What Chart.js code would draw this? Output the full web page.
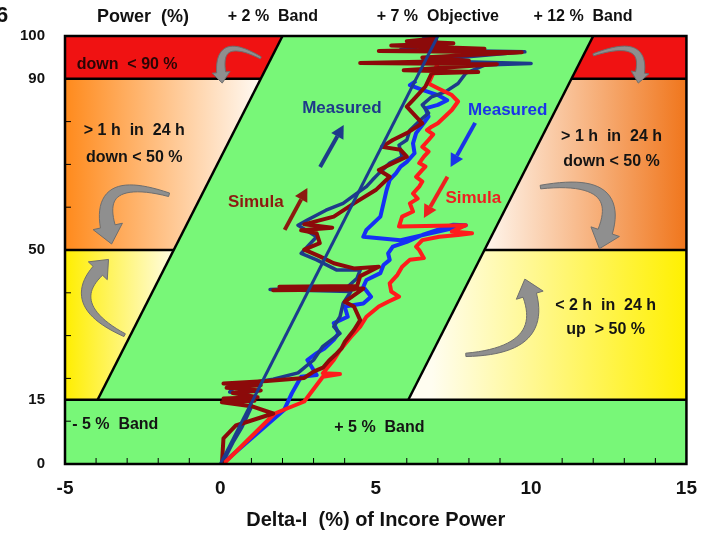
<!DOCTYPE html>
<html>
<head>
<meta charset="utf-8">
<script src="https://cdn.jsdelivr.net/npm/chart.js"></script>
<style>
  html, body { margin: 0; padding: 0; background: #fff; }
  #wrap { width: 710px; height: 533px; position: relative; }
</style>
</head>
<body>
<div id="wrap"><canvas id="deltaChart"></canvas></div>
<script>
var FONT = "'Liberation Sans', Arial, Helvetica, sans-serif";

// axis values
var xTicks = [-5, 0, 5, 10, 15];
var yTicks = [0, 15, 50, 90, 100];
var minorX = [-4, -3, -2, -1, 1, 2, 3, 4, 6, 7, 8, 9, 11, 12, 13, 14];
var minorY = [10, 20, 30, 40, 60, 70, 80];

// operating band: delta-I of each edge at 0 % and at 100 % power
var powerLevels = [15, 50, 90];
var bandLow = [-5, 2];
var bandHigh = [5, 12];
var objective = [[0, 0], [7, 100]];

// traces as [delta-I, power]
var simUp = [
  [0.05, 0], [0.1, 6], [0.5, 9], [1.7, 11.8], [1.0, 13.5], [0.05, 14.4], [1.1, 14.8], [0.1, 15.3],
  [1.2, 15.6], [0.4, 16.6], [1.3, 17.2], [0.2, 17.8], [1.3, 18.4], [0.1, 18.8], [1.5, 19.4],
  [2.7, 20.1], [3.0, 21.6], [3.3, 22.5], [3.5, 24.2], [3.7, 25.5], [3.9, 27.0], [4.0, 28.5],
  [4.3, 31.3], [4.5, 33.6], [4.3, 36.8], [4.0, 37.9], [4.6, 41.0], [1.7, 40.6], [4.3, 40.8],
  [1.9, 41.4], [4.4, 41.6], [4.5, 43.9], [5.1, 46.1], [4.3, 45.7], [3.65, 46.9], [3.2, 48.5],
  [2.7, 50.1], [3.2, 51.6], [3.1, 53.9], [2.6, 54.6], [3.6, 55.2], [2.7, 56.0], [3.65, 57.8],
  [4.3, 60.9], [5.0, 64.0], [5.45, 67.1], [5.1, 68.7], [5.55, 70.3], [6.0, 71.8], [5.8, 73.4],
  [5.2, 74.1], [5.55, 75.7], [6.0, 77.3], [6.5, 79.6], [6.2, 81.9], [6.0, 83.5], [6.2, 85.0],
  [6.4, 86.6], [6.6, 88.2], [6.8, 91.3], [8.3, 91.6], [5.9, 92.0], [8.9, 93.4], [4.5, 93.7],
  [8.0, 94.2], [6.5, 95.0], [9.7, 96.2], [5.1, 96.5], [8.5, 97.0], [5.5, 97.8], [7.5, 98.3],
  [6.0, 98.8], [7.0, 99.5]
];

var measUp = [
  [0.05, 0], [0.4, 5], [0.7, 8.7], [1.0, 13.4], [0.9, 16.1], [0.3, 16.8], [0.5, 18.2], [1.0, 19.0],
  [1.7, 19.8], [2.5, 21.3], [3.0, 24.3], [3.3, 27.5], [3.85, 30.5], [3.65, 32.1], [3.85, 34.4],
  [3.95, 37.5], [4.2, 40.3], [1.6, 40.8], [4.1, 41.4], [4.4, 43.4], [4.5, 45.3], [3.75, 45.3],
  [3.1, 47.7], [2.6, 49.2], [2.8, 50.8], [3.1, 53.1], [2.5, 55.8], [2.8, 57.0], [3.4, 59.3],
  [3.95, 60.9], [4.4, 63.3], [4.7, 64.8], [4.9, 66.4], [5.1, 67.9], [5.45, 70.3], [5.85, 71.8],
  [5.75, 74.5], [6.0, 75.7], [6.1, 78.0], [6.4, 80.1], [6.7, 82.0], [6.5, 83.9], [6.8, 85.8],
  [7.25, 87.0], [7.65, 88.9], [7.9, 91.3], [8.5, 93.2], [10.0, 93.6], [6.5, 94.2], [9.8, 96.3],
  [5.8, 96.8], [7.0, 98.5], [6.5, 100]
];

var measDown = [
  [6.3, 89.5], [6.1, 88.5], [6.5, 87.4], [7.0, 86.2], [7.3, 85.0], [7.0, 83.9], [6.6, 83.1],
  [6.7, 81.2], [6.5, 79.2], [6.3, 77.3], [6.2, 74.9], [6.25, 72.6], [6.0, 70.6], [5.8, 69.5],
  [5.65, 67.9], [5.45, 66.4], [5.35, 64.0], [5.25, 60.9], [5.15, 57.8], [4.7, 54.7], [4.6, 53.1],
  [5.8, 52.3], [7.9, 55.8], [7.5, 55.9], [6.5, 53.5], [6.0, 51.9], [5.55, 50.8], [5.4, 49.2],
  [5.45, 47.7], [5.25, 46.5], [5.15, 44.6], [4.7, 43.0], [4.6, 41.4], [4.85, 39.1], [4.6, 37.5],
  [4.0, 36.8], [4.1, 34.4], [3.65, 32.9], [3.8, 30.5], [3.65, 29.0], [3.35, 27.0], [3.1, 25.9],
  [2.8, 24.3], [3.1, 20.8], [2.6, 20.4], [2.3, 16.5], [2.05, 12.6], [0.1, 0.3]
];

var simDown = [
  [6.8, 95.0], [7.0, 93.6], [6.9, 92.1], [6.8, 90.5], [6.7, 88.9], [7.0, 87.8], [7.45, 86.2],
  [7.65, 84.7], [7.45, 82.7], [7.0, 79.6], [6.8, 78.8], [6.65, 78.0], [6.85, 77.0], [6.7, 75.7],
  [6.5, 74.1], [6.7, 73.0], [6.55, 71.8], [6.4, 70.3], [6.6, 69.5], [6.5, 68.7], [6.3, 67.1],
  [6.5, 66.0], [6.4, 64.8], [6.2, 63.2], [6.35, 62.0], [6.1, 60.9], [6.2, 59.0], [5.85, 57.8],
  [5.75, 55.5], [7.9, 55.8], [7.45, 54.3], [8.1, 53.9], [7.65, 53.5], [7.05, 53.1], [6.5, 52.3],
  [6.3, 50.8], [6.4, 50.0], [6.55, 48.1], [6.1, 47.7], [5.85, 46.1], [5.7, 44.2], [5.45, 42.2],
  [5.5, 40.3], [5.75, 39.1], [5.4, 37.9], [5.1, 36.8], [4.7, 34.4], [4.5, 32.1], [4.2, 29.7],
  [3.85, 26.6], [3.65, 24.3], [3.3, 21.2], [3.85, 21.0], [3.3, 20.4], [2.7, 14.6], [1.75, 11.8],
  [0.1, 0]
];

// text and arrows inside the plot, in axis values
var zoneNotes = [
  { text: "down  < 90 %", x: -3.0, y: 93.4, color: "#2a0505" },
  { text: "> 1 h  in  24 h", x: -2.77, y: 77.8, color: "#141414" },
  { text: "down < 50 %", x: -2.77, y: 71.7, color: "#141414" },
  { text: "> 1 h  in  24 h", x: 12.59, y: 76.6, color: "#141414" },
  { text: "down < 50 %", x: 12.59, y: 70.6, color: "#141414" },
  { text: "< 2 h  in  24 h", x: 12.4, y: 37.1, color: "#141414" },
  { text: "up  > 50 %", x: 12.4, y: 31.3, color: "#141414" },
  { text: "+ 5 %  Band", x: 5.12, y: 8.6, color: "#141414" }
];
var traceNotes = [
  { text: "Measured", x: 3.91, y: 83.2, color: "#1e3a8a" },
  { text: "Measured", x: 9.25, y: 82.7, color: "#1a34e8" },
  { text: "Simula", x: 1.14, y: 61.2, color: "#8c1a10" },
  { text: "Simula", x: 8.14, y: 62.1, color: "#ee2020" }
];
var traceArrows = [
  { from: [3.21, 69.4], to: [3.97, 79.2], color: "#1e3a8a" },
  { from: [8.2, 79.7], to: [7.41, 69.4], color: "#1a34e8" },
  { from: [2.07, 54.7], to: [2.8, 64.5], color: "#8c1a10" },
  { from: [7.31, 67.1], to: [6.55, 57.5], color: "#ee2020" }
];
// gray turn arrows: tail, bend, head, width
var turnArrows = [
  { p0: [1.3, 94.9], c: [-0.1, 100.5], p1: [0.06, 89.0], w: 9 },
  { p0: [12.0, 95.6], c: [13.7, 100.0], p1: [13.45, 89.0], w: 9 },
  { p0: [-1.65, 62.9], c: [-4.0, 68.0], p1: [-3.5, 51.4], w: 15 },
  { p0: [10.3, 64.7], c: [13.0, 67.5], p1: [12.2, 50.3], w: 15 },
  { p0: [-3.08, 30.1], c: [-5.0, 37.0], p1: [-3.6, 47.8], w: 13 },
  { p0: [7.9, 25.5], c: [10.5, 26.5], p1: [9.8, 43.2], w: 14 }
];

var GREEN = "#78f778";
var RED = "#f01212";

function fillPoly(ctx, pts, style) {
  ctx.beginPath();
  ctx.moveTo(pts[0][0], pts[0][1]);
  for (var i = 1; i < pts.length; i++) ctx.lineTo(pts[i][0], pts[i][1]);
  ctx.closePath();
  ctx.fillStyle = style;
  ctx.fill();
}

function seg(ctx, x0, y0, x1, y1) {
  ctx.beginPath();
  ctx.moveTo(x0, y0);
  ctx.lineTo(x1, y1);
  ctx.stroke();
}

function straightArrow(ctx, x0, y0, x1, y1, color) {
  var ang = Math.atan2(y1 - y0, x1 - x0), head = 13, half = 7;
  var bx = x1 - Math.cos(ang) * head, by = y1 - Math.sin(ang) * head;
  ctx.strokeStyle = color;
  ctx.lineWidth = 4;
  ctx.lineCap = "butt";
  seg(ctx, x0, y0, bx, by);
  fillPoly(ctx, [[x1, y1],
    [bx + Math.sin(ang) * half, by - Math.cos(ang) * half],
    [bx - Math.sin(ang) * half, by + Math.cos(ang) * half]], color);
}

// tapered curved arrow (quadratic curve, widening toward the head)
function curvedArrow(ctx, p0, c, p1, w) {
  var dx = p1[0] - c[0], dy = p1[1] - c[1], d = Math.hypot(dx, dy);
  var ux = dx / d, uy = dy / d, headLen = w * 1.2;
  var e = [p1[0] - ux * headLen, p1[1] - uy * headLen];
  var left = [], right = [];
  for (var i = 0; i <= 24; i++) {
    var t = i / 24, mt = 1 - t;
    var px = mt * mt * p0[0] + 2 * mt * t * c[0] + t * t * e[0];
    var py = mt * mt * p0[1] + 2 * mt * t * c[1] + t * t * e[1];
    var tx = 2 * mt * (c[0] - p0[0]) + 2 * t * (e[0] - c[0]);
    var ty = 2 * mt * (c[1] - p0[1]) + 2 * t * (e[1] - c[1]);
    var tl = Math.hypot(tx, ty) || 1;
    var hw = w * (0.12 + 0.38 * t);
    left.push([px - ty / tl * hw, py + tx / tl * hw]);
    right.push([px + ty / tl * hw, py - tx / tl * hw]);
  }
  var ex = e[0] - c[0], ey = e[1] - c[1], el = Math.hypot(ex, ey) || 1;
  ex /= el; ey /= el;
  var pts = left.slice();
  pts.push([e[0] - ey * w, e[1] + ex * w]);
  pts.push([e[0] + ex * headLen, e[1] + ey * headLen]);
  pts.push([e[0] + ey * w, e[1] - ex * w]);
  pts = pts.concat(right.reverse());
  fillPoly(ctx, pts, "#8f8f8f");
  ctx.strokeStyle = "#6e6e6e";
  ctx.lineWidth = 1;
  ctx.stroke();
}

var zones = {
  id: "zones",
  beforeDatasetsDraw: function (chart) {
    var ctx = chart.ctx, a = chart.chartArea;
    var X = function (v) { return chart.scales.x.getPixelForValue(v); };
    var Y = function (v) { return chart.scales.y.getPixelForValue(v); };
    var lo = function (p) { return X(bandLow[0] + (bandLow[1] - bandLow[0]) * p / 100); };
    var hi = function (p) { return X(bandHigh[0] + (bandHigh[1] - bandHigh[0]) * p / 100); };
    var p15 = powerLevels[0], p50 = powerLevels[1], p90 = powerLevels[2];

    ctx.save();
    ctx.fillStyle = GREEN;
    ctx.fillRect(a.left, a.top, a.right - a.left, a.bottom - a.top);

    // red band at the top
    fillPoly(ctx, [[a.left, Y(100)], [lo(100), Y(100)], [lo(p90), Y(p90)], [a.left, Y(p90)]], RED);
    fillPoly(ctx, [[hi(100), Y(100)], [a.right, Y(100)], [a.right, Y(p90)], [hi(p90), Y(p90)]], RED);

    // orange zones, fading to white at the band
    var g = ctx.createLinearGradient(a.left, 0, X(1.3), 0);
    g.addColorStop(0, "#ff8a1c");
    g.addColorStop(1, "#fffaf4");
    fillPoly(ctx, [[a.left, Y(p90)], [lo(p90), Y(p90)], [lo(p50), Y(p50)], [a.left, Y(p50)]], g);
    g = ctx.createLinearGradient(X(8.3), 0, a.right, 0);
    g.addColorStop(0, "#fffaf4");
    g.addColorStop(1, "#f0761c");
    fillPoly(ctx, [[hi(p90), Y(p90)], [a.right, Y(p90)], [a.right, Y(p50)], [hi(p50), Y(p50)]], g);

    // yellow zones
    g = ctx.createLinearGradient(a.left, 0, X(-1.3), 0);
    g.addColorStop(0, "#ffee00");
    g.addColorStop(1, "#fffdf0");
    fillPoly(ctx, [[a.left, Y(p50)], [lo(p50), Y(p50)], [lo(p15), Y(p15)], [a.left, Y(p15)]], g);
    g = ctx.createLinearGradient(X(6.8), 0, a.right, 0);
    g.addColorStop(0, "#fffdf0");
    g.addColorStop(1, "#fff000");
    fillPoly(ctx, [[hi(p50), Y(p50)], [a.right, Y(p50)], [a.right, Y(p15)], [hi(p15), Y(p15)]], g);

    // black edges of the zones
    ctx.strokeStyle = "#000";
    ctx.lineWidth = 2.5;
    seg(ctx, lo(p15), Y(p15), lo(100), Y(100));
    seg(ctx, hi(p15), Y(p15), hi(100), Y(100));
    seg(ctx, a.left, Y(p15), a.right, Y(p15));
    seg(ctx, a.left, Y(p50), lo(p50), Y(p50));
    seg(ctx, hi(p50), Y(p50), a.right, Y(p50));
    seg(ctx, a.left, Y(p90), lo(p90), Y(p90));
    seg(ctx, hi(p90), Y(p90), a.right, Y(p90));

    turnArrows.forEach(function (t) {
      curvedArrow(ctx, [X(t.p0[0]), Y(t.p0[1])], [X(t.c[0]), Y(t.c[1])], [X(t.p1[0]), Y(t.p1[1])], t.w);
    });

    ctx.textBaseline = "middle";
    ctx.textAlign = "center";
    ctx.font = "bold 16px " + FONT;
    zoneNotes.forEach(function (n) {
      ctx.fillStyle = n.color;
      ctx.fillText(n.text, X(n.x), Y(n.y));
    });
    ctx.textAlign = "left";
    ctx.fillText("- 5 %  Band", X(-4.77), Y(9.1));

    ctx.textAlign = "center";
    ctx.font = "bold 17px " + FONT;
    traceNotes.forEach(function (n) {
      ctx.fillStyle = n.color;
      ctx.fillText(n.text, X(n.x), Y(n.y));
    });
    traceArrows.forEach(function (r) {
      straightArrow(ctx, X(r.from[0]), Y(r.from[1]), X(r.to[0]), Y(r.to[1]), r.color);
    });
    ctx.restore();
  },
  afterDatasetsDraw: function (chart) {
    var ctx = chart.ctx, a = chart.chartArea;
    var X = function (v) { return chart.scales.x.getPixelForValue(v); };
    var Y = function (v) { return chart.scales.y.getPixelForValue(v); };
    ctx.save();
    ctx.strokeStyle = "#000";
    ctx.lineWidth = 1;
    minorX.forEach(function (v) { seg(ctx, X(v), a.bottom, X(v), a.bottom - 6); });
    minorY.forEach(function (v) { seg(ctx, a.left, Y(v), a.left + 6, Y(v)); });
    ctx.lineWidth = 2.5;
    ctx.strokeRect(a.left, a.top, a.right - a.left, a.bottom - a.top);

    // header line above the plot
    ctx.fillStyle = "#111";
    ctx.textBaseline = "middle";
    ctx.textAlign = "left";
    ctx.font = "bold 18px " + FONT;
    ctx.fillText("Power  (%)", X(-3.97), a.top - 19);
    ctx.font = "bold 22px " + FONT;
    ctx.fillText("6", -4, a.top - 20);
    ctx.textAlign = "center";
    ctx.font = "bold 16px " + FONT;
    ctx.fillText("+ 2 %  Band", X(1.69), a.top - 19);
    ctx.fillText("+ 7 %  Objective", X(7.0), a.top - 19);
    ctx.fillText("+ 12 %  Band", X(11.67), a.top - 19);
    ctx.restore();
  }
};

function toXY(list) {
  return list.map(function (p) { return { x: p[0], y: p[1] }; });
}

var ctx = document.getElementById("deltaChart");
var deltaChart = new Chart(ctx, {
  type: "scatter",
  data: {
    datasets: [
      { label: "Objective", data: toXY(objective), borderColor: "#1c3b8e", borderWidth: 3 },
      { label: "Simulated up", data: toXY(simUp), borderColor: "#8c0a0a", borderWidth: 4 },
      { label: "Simulated down", data: toXY(simDown), borderColor: "#ff1c1c", borderWidth: 4 },
      { label: "Measured up", data: toXY(measUp), borderColor: "#1e3a8a", borderWidth: 3.5 },
      { label: "Measured down", data: toXY(measDown), borderColor: "#1530f5", borderWidth: 4 }
    ].map(function (d) {
      d.showLine = true;
      d.pointRadius = 0;
      d.tension = 0;
      d.borderJoinStyle = "round";
      return d;
    })
  },
  options: {
    responsive: true,
    maintainAspectRatio: false,
    animation: false,
    layout: { padding: { left: 0, top: 36, right: 16, bottom: 0 } },
    plugins: {
      legend: { display: false },
      tooltip: { enabled: false }
    },
    scales: {
      x: {
        type: "linear",
        min: -5,
        max: 15,
        afterBuildTicks: function (scale) {
          scale.ticks = xTicks.map(function (v) { return { value: v }; });
        },
        afterFit: function (scale) { scale.height = 69; },
        grid: { display: false, drawTicks: false },
        border: { display: false },
        ticks: { color: "#111", font: { family: FONT, size: 19, weight: "bold" }, padding: 13, maxRotation: 0 },
        title: {
          display: true,
          text: "Delta-I  (%) of Incore Power",
          color: "#111",
          font: { family: FONT, size: 20, weight: "bold" },
          padding: { top: 0, bottom: 1 }
        }
      },
      y: {
        type: "linear",
        min: 0,
        max: 100,
        afterBuildTicks: function (scale) {
          scale.ticks = yTicks.map(function (v) { return { value: v }; });
        },
        afterFit: function (scale) { scale.width = 65; },
        grid: { display: false, drawTicks: false },
        border: { display: false },
        ticks: { color: "#111", font: { family: FONT, size: 15, weight: "bold" }, padding: 20 }
      }
    }
  },
  plugins: [zones]
});
</script>
</body>
</html>
